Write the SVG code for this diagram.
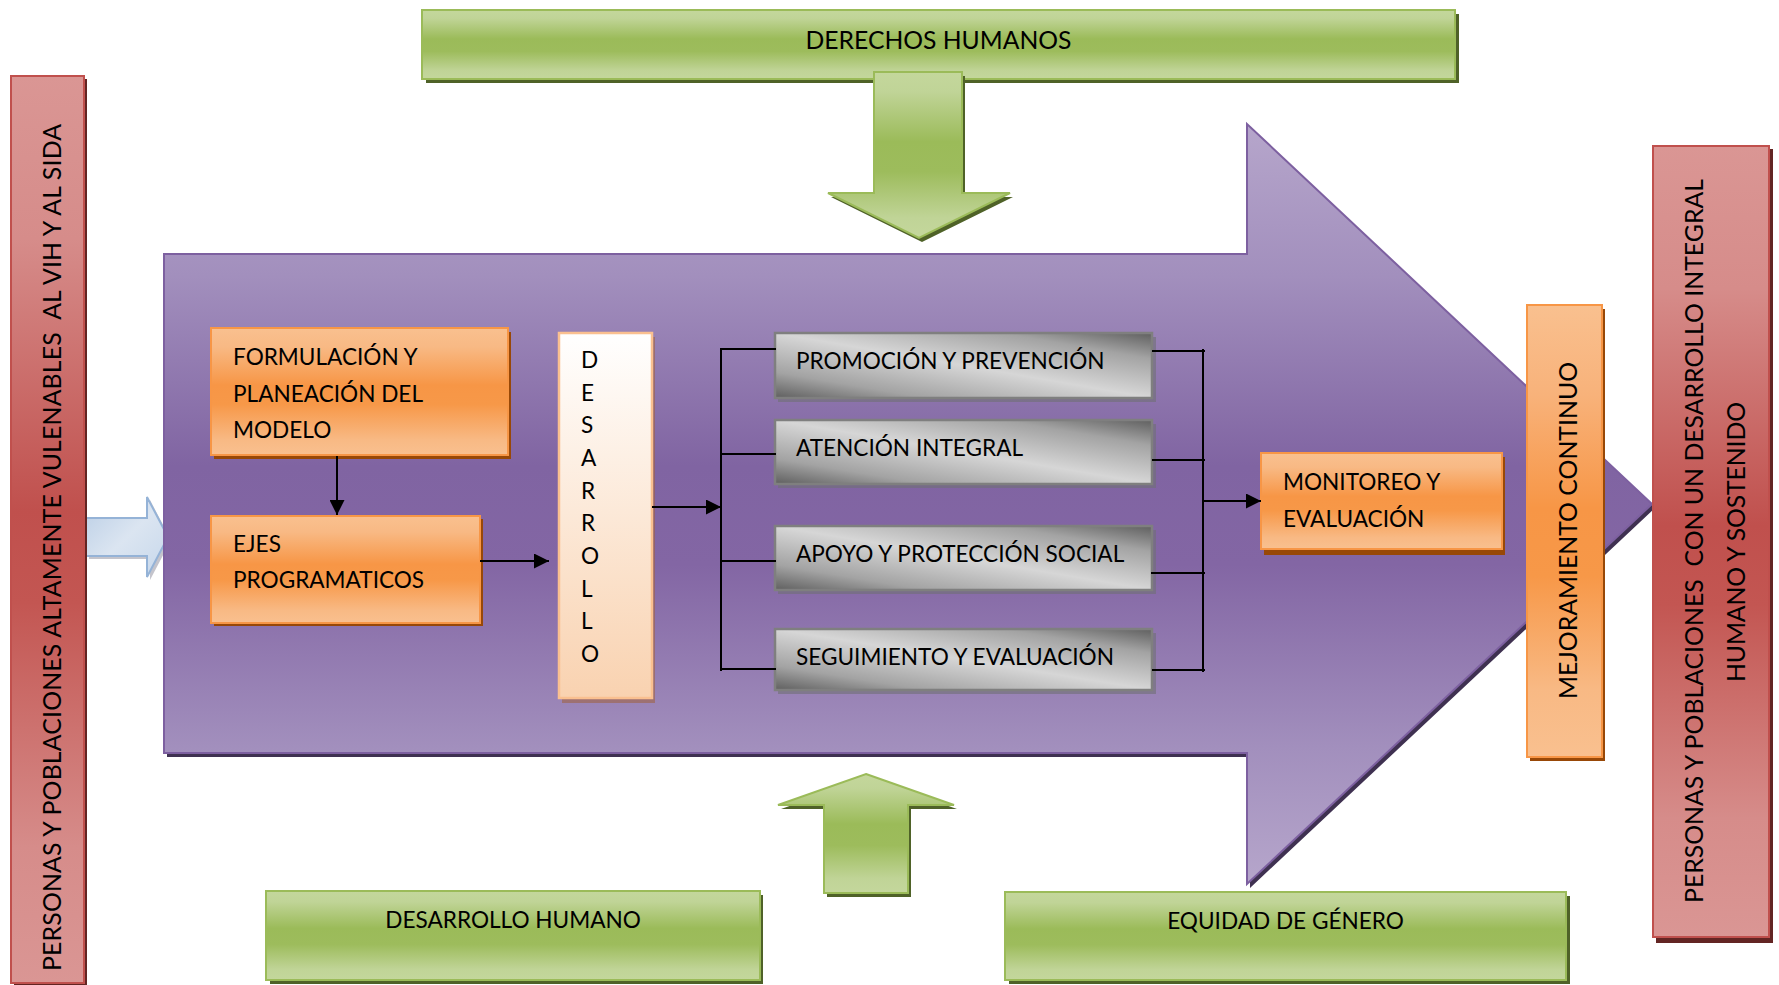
<svg xmlns="http://www.w3.org/2000/svg" width="1779" height="985" viewBox="0 0 1779 985">
<defs>
  <linearGradient id="gGreen" x1="0" y1="0" x2="0" y2="1">
    <stop offset="0" stop-color="#c4d79c"/>
    <stop offset="0.12" stop-color="#c0d497"/>
    <stop offset="0.42" stop-color="#9bbb59"/>
    <stop offset="0.6" stop-color="#9dbc5c"/>
    <stop offset="0.88" stop-color="#c0d497"/>
    <stop offset="1" stop-color="#c4d79c"/>
  </linearGradient>
  <linearGradient id="gOrange" x1="0" y1="0" x2="0" y2="1">
    <stop offset="0" stop-color="#f9c08f"/>
    <stop offset="0.15" stop-color="#f8b984"/>
    <stop offset="0.45" stop-color="#f79646"/>
    <stop offset="0.6" stop-color="#f79848"/>
    <stop offset="0.88" stop-color="#f8b984"/>
    <stop offset="1" stop-color="#f9c08f"/>
  </linearGradient>
  <linearGradient id="gOrangeV" x1="0" y1="0" x2="0" y2="1">
    <stop offset="0" stop-color="#f9c08f"/>
    <stop offset="0.2" stop-color="#f8b27a"/>
    <stop offset="0.45" stop-color="#f79646"/>
    <stop offset="0.6" stop-color="#f79848"/>
    <stop offset="0.85" stop-color="#f8b984"/>
    <stop offset="1" stop-color="#f9c08f"/>
  </linearGradient>
  <linearGradient id="gRed" x1="0" y1="0" x2="0" y2="1">
    <stop offset="0" stop-color="#da9694"/>
    <stop offset="0.18" stop-color="#d68c8a"/>
    <stop offset="0.48" stop-color="#c0504d"/>
    <stop offset="0.58" stop-color="#c35652"/>
    <stop offset="0.85" stop-color="#d68c8a"/>
    <stop offset="1" stop-color="#da9694"/>
  </linearGradient>
  <linearGradient id="gPurple" x1="0" y1="0" x2="0" y2="1">
    <stop offset="0" stop-color="#b6a6cb"/>
    <stop offset="0.2" stop-color="#a28fbd"/>
    <stop offset="0.45" stop-color="#8064a2"/>
    <stop offset="0.58" stop-color="#8366a4"/>
    <stop offset="0.82" stop-color="#a28fbd"/>
    <stop offset="1" stop-color="#b6a6cb"/>
  </linearGradient>
  <linearGradient id="gDes" x1="0" y1="0" x2="0" y2="1">
    <stop offset="0" stop-color="#ffffff"/>
    <stop offset="1" stop-color="#f9d2b0"/>
  </linearGradient>
  <linearGradient id="gGray" x1="0" y1="1" x2="1" y2="0">
    <stop offset="0" stop-color="#5f5f5f"/>
    <stop offset="0.2" stop-color="#a3a3a3"/>
    <stop offset="0.5" stop-color="#d6d6d6"/>
    <stop offset="0.8" stop-color="#a3a3a3"/>
    <stop offset="1" stop-color="#5f5f5f"/>
  </linearGradient>
  <linearGradient id="gBlue" x1="0" y1="0" x2="1" y2="1">
    <stop offset="0" stop-color="#b9cde5"/>
    <stop offset="0.5" stop-color="#dbe5f1"/>
    <stop offset="1" stop-color="#c6d7eb"/>
  </linearGradient>
  <marker id="ah" markerWidth="15" markerHeight="15" refX="15" refY="7.5" orient="auto" markerUnits="userSpaceOnUse">
    <path d="M0,0 L15,7.5 L0,15 Z" fill="#000"/>
  </marker>
</defs>
<style>
  text { font-family: "Lato", "Liberation Sans", sans-serif; fill: #000; }
  .t { font-size: 22.6px; }
  .tv { font-size: 24.8px; }
  .green { fill: url(#gGreen); stroke: #9bbb59; stroke-width: 2; }
  .greenSh { fill: #4f6228; }
  .orange { fill: url(#gOrange); stroke: #f79646; stroke-width: 2; }
  .orangeSh { fill: #984807; }
  .red { fill: url(#gRed); stroke: #c0504d; stroke-width: 2; }
  .redSh { fill: #632523; }
  .gray { fill: url(#gGray); stroke: #7f7f7f; stroke-width: 2.5; }
  .graySh { fill: #6f6f75; opacity: 0.6; }
  .conn { stroke: #000; stroke-width: 2; fill: none; }
</style>

<g id="input-arrow">
  <path d="M89,521 L150,521 L150,500 L171,540 L150,580 L150,559 L89,559 Z" fill="#8a8a9a" opacity="0.5"/>
  <path d="M86,518 L147,518 L147,497 L168,537 L147,577 L147,556 L86,556 Z" fill="url(#gBlue)" stroke="#95b3d7" stroke-width="2"/>
</g>

<g id="process-arrow">
  <path d="M167,258 L1250,258 L1250,128 L1655,508 L1250,888 L1250,757 L167,757 Z" fill="#3f3151"/>
  <path d="M164,254 L1247,254 L1247,124 L1652,504 L1247,884 L1247,753 L164,753 Z" fill="url(#gPurple)" stroke="#7d60a0" stroke-width="2"/>
</g>

<g id="left-population">
  <rect x="14" y="79" width="73" height="907" class="redSh"/>
  <rect x="11" y="76" width="73" height="907" class="red"/>
  <text class="tv" transform="translate(61,547.5) rotate(-90)" text-anchor="middle" textLength="847" xml:space="preserve">PERSONAS Y POBLACIONES ALTAMENTE VULENABLES  AL VIH Y AL SIDA</text>
</g>

<g id="derechos-humanos">
  <rect x="426" y="14" width="1033" height="69" class="greenSh"/>
  <rect x="422" y="10" width="1033" height="69" class="green"/>
  <text x="938.5" y="49" text-anchor="middle" style="font-size:24.7px">DERECHOS HUMANOS</text>
</g>

<g id="down-arrow">
  <path d="M877,76 L965,76 L965,197 L1013,197 L922,242 L831,197 L877,197 Z" class="greenSh"/>
  <path d="M874,72 L962,72 L962,193 L1010,193 L919,238 L828,193 L874,193 Z" class="green"/>
</g>

<g id="formulacion">
  <rect x="214" y="332" width="297" height="127" class="orangeSh"/>
  <rect x="211" y="328" width="297" height="127" class="orange"/>
  <text class="t" x="233" y="365">FORMULACIÓN Y</text>
  <text class="t" x="233" y="402">PLANEACIÓN DEL</text>
  <text class="t" x="233" y="438">MODELO</text>
</g>

<g id="ejes">
  <rect x="214" y="519" width="269" height="107" class="orangeSh"/>
  <rect x="211" y="516" width="269" height="107" class="orange"/>
  <text class="t" x="233" y="552">EJES</text>
  <text class="t" x="233" y="588">PROGRAMATICOS</text>
</g>

<g id="desarrollo">
  <rect x="562" y="337" width="93" height="366" fill="#a0603a" opacity="0.55"/>
  <rect x="559" y="333" width="93" height="365" fill="url(#gDes)" stroke="#fac090" stroke-width="2.5"/>
  <g class="t">
    <text x="581" y="368">D</text>
    <text x="581" y="401">E</text>
    <text x="581" y="433">S</text>
    <text x="581" y="466">A</text>
    <text x="581" y="499">R</text>
    <text x="581" y="531">R</text>
    <text x="581" y="564">O</text>
    <text x="581" y="597">L</text>
    <text x="581" y="629">L</text>
    <text x="581" y="662">O</text>
  </g>
</g>

<g id="promocion">
  <rect x="778" y="337" width="378" height="65" class="graySh"/>
  <rect x="775" y="333" width="377" height="65" class="gray"/>
  <text class="t" x="796" y="369">PROMOCIÓN Y PREVENCIÓN</text>
</g>
<g id="atencion">
  <rect x="778" y="424" width="378" height="64" class="graySh"/>
  <rect x="775" y="420" width="377" height="64" class="gray"/>
  <text class="t" x="796" y="456">ATENCIÓN INTEGRAL</text>
</g>
<g id="apoyo">
  <rect x="778" y="530" width="378" height="64" class="graySh"/>
  <rect x="775" y="526" width="377" height="64" class="gray"/>
  <text class="t" x="796" y="562">APOYO Y PROTECCIÓN SOCIAL</text>
</g>
<g id="seguimiento">
  <rect x="778" y="633" width="378" height="61" class="graySh"/>
  <rect x="775" y="629" width="377" height="61" class="gray"/>
  <text class="t" x="796" y="665">SEGUIMIENTO Y EVALUACIÓN</text>
</g>

<g id="monitoreo">
  <rect x="1264" y="457" width="241" height="98" class="orangeSh"/>
  <rect x="1261" y="453" width="241" height="96" class="orange"/>
  <text class="t" x="1283" y="490">MONITOREO Y</text>
  <text class="t" x="1283" y="527">EVALUACIÓN</text>
</g>

<g id="mejoramiento">
  <rect x="1530" y="309" width="75" height="452" class="orangeSh"/>
  <rect x="1527" y="305" width="75" height="452" fill="url(#gOrangeV)" stroke="#f79646" stroke-width="2"/>
  <text class="tv" transform="translate(1577,530.5) rotate(-90)" text-anchor="middle" textLength="337">MEJORAMIENTO CONTINUO</text>
</g>

<g id="right-population">
  <rect x="1656" y="149" width="117" height="794" class="redSh"/>
  <rect x="1653" y="146" width="116" height="791" class="red"/>
  <text class="tv" transform="translate(1703,541) rotate(-90)" text-anchor="middle" textLength="724" xml:space="preserve">PERSONAS Y POBLACIONES  CON UN DESARROLLO INTEGRAL</text>
  <text class="tv" transform="translate(1745,542) rotate(-90)" text-anchor="middle" textLength="280">HUMANO Y SOSTENIDO</text>
</g>

<g id="up-arrow">
  <path d="M869,778 L957,809 L911,809 L911,897 L827,897 L827,809 L781,809 Z" class="greenSh"/>
  <path d="M866,774 L954,805 L908,805 L908,893 L824,893 L824,805 L778,805 Z" class="green"/>
</g>

<g id="desarrollo-humano">
  <rect x="270" y="895" width="493" height="89" class="greenSh"/>
  <rect x="266" y="891" width="494" height="89" class="green"/>
  <text class="t" x="513" y="928" text-anchor="middle">DESARROLLO HUMANO</text>
</g>

<g id="equidad-genero">
  <rect x="1009" y="896" width="561" height="88" class="greenSh"/>
  <rect x="1005" y="892" width="561" height="88" class="green"/>
  <text class="t" x="1285.5" y="929" text-anchor="middle">EQUIDAD DE GÉNERO</text>
</g>

<g id="connectors">
  <line x1="337" y1="456" x2="337" y2="515" class="conn" marker-end="url(#ah)"/>
  <line x1="480" y1="561" x2="549" y2="561" class="conn" marker-end="url(#ah)"/>
  <line x1="652" y1="507" x2="721" y2="507" class="conn" marker-end="url(#ah)"/>
  <line x1="721" y1="348" x2="721" y2="671" class="conn"/>
  <line x1="720" y1="349" x2="776" y2="349" class="conn"/>
  <line x1="720" y1="454" x2="776" y2="454" class="conn"/>
  <line x1="720" y1="561" x2="776" y2="561" class="conn"/>
  <line x1="720" y1="669" x2="776" y2="669" class="conn"/>
  <line x1="1203" y1="349" x2="1203" y2="672" class="conn"/>
  <line x1="1152" y1="351" x2="1205" y2="351" class="conn"/>
  <line x1="1152" y1="460" x2="1205" y2="460" class="conn"/>
  <line x1="1151" y1="573" x2="1205" y2="573" class="conn"/>
  <line x1="1152" y1="670" x2="1205" y2="670" class="conn"/>
  <line x1="1203" y1="501" x2="1261" y2="501" class="conn" marker-end="url(#ah)"/>
</g>
</svg>
